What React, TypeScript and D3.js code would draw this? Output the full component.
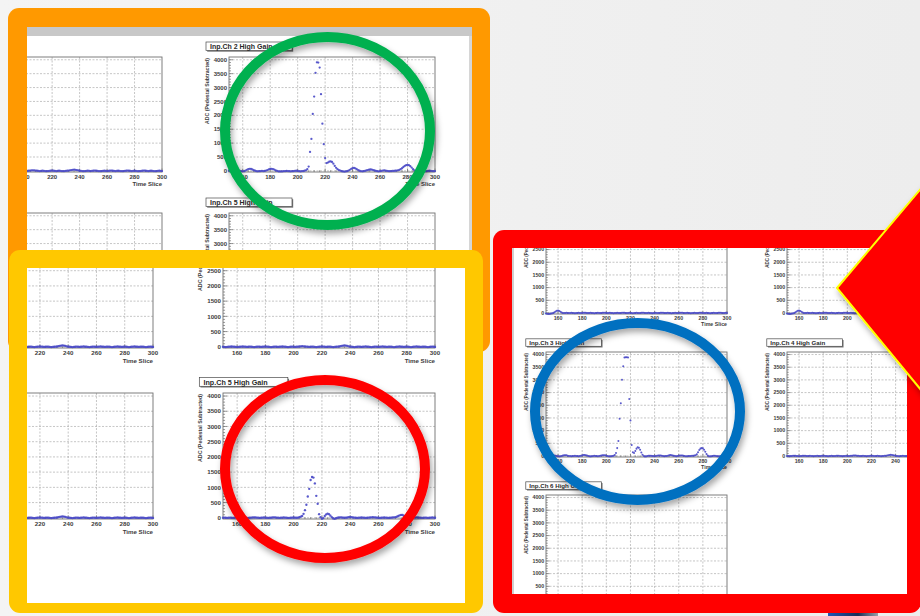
import React from "react";
import * as d3 from "d3";

// ---------- data ----------
const FIRST_SLICE = 150;
const LAST_SLICE = 300;
const xTickLabels = [160, 180, 200, 220, 240, 260, 280, 300];
const yTickLabels = [0, 500, 1000, 1500, 2000, 2500, 3000, 3500, 4000];
const yAxisRange = [-40, 4100];

// ADC (pedestal subtracted) for time slices 150..300
const adcCh2 = [
  5, 0, -5, -10, -5, 5, 10, 5, 0, -10,
  -15, -10, 10, 40, 65, 75, 70, 50, 25, 5,
  -10, -15, -10, -5, 0, -5, 0, 10, 30, 55,
  70, 75, 65, 45, 20, 0, -15, -20, -20, -15,
  -10, -5, 0, -5, -10, -15, -10, -5, 0, 5,
  0, -10, -15, -10, -5, 5, 20, 60, 155, 684,
  1150, 2050, 2675, 3530, 3910, 3900, 3720, 2760, 1700, 960,
  460, 280, 300, 330, 340, 320, 260, 180, 110, 60,
  30, 10, -10, -20, -25, -20, -10, 10, 40, 75,
  100, 105, 90, 60, 30, 5, -10, -15, -10, 0,
  15, 30, 45, 50, 45, 30, 15, 0, -10, -15,
  -10, 0, 10, 15, 10, 0, -5, -10, -5, 0,
  0, 5, 10, 20, 35, 60, 95, 140, 180, 205,
  215, 205, 170, 120, 60, 15, -15, -25, -15, -5,
  5, 0, -5, -10, -5, 0, 5, 0, -5, -10,
  -5,
];

const adcCh5 = [
  0, 5, 0, -5, 0, 5, 0, -5, 0, 5,
  10, 5, 0, -5, 0, 5, 0, -5, -5, 0,
  5, 10, 15, 10, 5, 0, -5, 0, 5, 10,
  5, 0, -5, 0, 5, 10, 15, 10, 5, 0,
  -5, 0, 5, 10, 5, 0, -5, -5, 0, 5,
  10, 5, 0, 5, 20, 40, 60, 130, 250, 430,
  700, 950, 1240, 1340, 1320, 1130, 720, 460, 120, 20,
  -30, -10, 60, 110, 135, 120, 70, 20, -20, -30,
  -15, 0, 10, 15, 10, 5, 0, 5, 10, 20,
  25, 20, 10, 5, 0, -5, 0, 5, 10, 5,
  0, -5, 0, 5, 10, 15, 20, 15, 10, 5,
  0, -5, 0, 5, 10, 5, 0, -5, 0, 5,
  10, 15, 20, 35, 60, 80, 95, 90, 65, 35,
  10, -5, -10, -5, 0, 5, 10, 15, 10, 5,
  0, -5, 0, 5, 0, -5, 0, 5, 10, 5,
  0,
];

const adcCh3 = [
  -10, -15, -10, 0, 10, 20, 25, 20, 10, 0,
  -10, -15, -10, 0, 15, 25, 30, 25, 10, 0,
  -5, -10, -5, 0, 5, 0, -5, -10, -5, 5,
  20, 35, 40, 30, 15, 0, -10, -15, -10, 0,
  5, 0, -5, -10, -5, 5, 15, 25, 30, 25,
  10, 0, -10, -15, -10, 0, 10, 40, 120, 310,
  590, 1470, 2080, 3010, 3540, 3880, 3890, 3890, 3880, 2250,
  1400, 430, 150, 120, 200, 290, 340, 320, 250, 140,
  50, 0, -20, -15, -5, 5, 10, 5, 0, -5,
  -10, -5, 5, 15, 20, 15, 5, -5, -10, -5,
  0, 10, 25, 35, 30, 20, 5, -5, -10, -5,
  5, 15, 20, 15, 5, -5, -10, -10, -5, 0,
  0, 5, 10, 15, 30, 70, 150, 240, 290, 310,
  300, 250, 170, 80, 20, -10, -15, -10, 0, 10,
  10, 0, -10, -15, -10, 0, 10, 15, 10, 5,
  0,
];

const adcQuiet = [
  0, -5, -10, -5, 0, 5, 10, 5, 0, -5,
  -10, -5, 0, 5, 10, 5, 0, -5, 0, 5,
  0, -5, -10, -5, 0, 5, 0, -5, 0, 5,
  10, 5, 0, -5, -10, -5, 0, 5, 0, -5,
  0, 5, 10, 5, 0, -5, -10, -5, 0, 5,
  0, -5, 0, 5, 10, 15, 20, 15, 10, 5,
  0, -5, 0, 5, 0, -5, -10, -5, 0, 5,
  10, 5, 0, -5, 0, 5, 0, -5, -10, -5,
  0, 5, 10, 20, 30, 40, 45, 40, 30, 15,
  5, 0, -5, -10, -5, 0, 5, 0, -5, 0,
  5, 10, 5, 0, -5, -10, -5, 0, 5, 0,
  -5, 0, 5, 10, 5, 0, -5, 0, 5, 0,
  -5, -10, -5, 0, 5, 10, 5, 0, -5, 0,
  5, 0, -5, -10, -5, 0, 5, 10, 5, 0,
  -5, 0, 5, 0, -5, -10, -5, 0, 5, 0,
  -5,
];

const adcQuietEarlyBump = [
  -20, -30, -40, -35, -25, -15, 0, 25, 60, 90,
  100, 80, 45, 15, 0, -5, 0, 5, 0, -5,
  0, 5, 0, -5, -10, -5, 0, 5, 0, -5,
  0, 5, 10, 5, 0, -5, 0, 5, 0, -5,
  -10, -5, 0, 5, 0, -5, 0, 5, 10, 5,
  0, -5, 0, 5, 0, -5, -10, -5, 0, 5,
  0, -5, 0, 5, 10, 5, 0, -5, 0, 5,
  0, -5, -10, -5, 0, 5, 0, -5, 0, 5,
  10, 5, 0, -5, 0, 5, 0, -5, -10, -5,
  0, 5, 0, -5, 0, 5, 10, 5, 0, -5,
  0, 5, 0, -5, -10, -5, 0, 5, 0, -5,
  0, 5, 10, 5, 0, -5, 0, 5, 0, -5,
  -10, -5, 0, 5, 0, -5, 0, 5, 10, 5,
  0, -5, 0, 5, 0, -5, -10, -5, 0, 5,
  0, -5, 0, 5, 10, 5, 0, -5, 0, 5,
  0,
];

// ---------- layout ----------
const W = 920;
const H = 616;
const FONT = "'Liberation Sans', Arial, Helvetica, sans-serif";
const MARKER = "#4848c6";

type Box = { x: number; y: number; w: number; h: number };
type PadSpec = { fx: number; fy: number; fw: number; fh: number; title: string; data: number[] };

// visible part of each screenshot (orange is covered by the yellow one below y=250)
const orangeClip: Box = { x: 27, y: 27, w: 445, h: 223 };
const yellowClip: Box = { x: 27, y: 268, w: 438, h: 335 };
const redClip: Box = { x: 512, y: 248, w: 395, h: 346 };

const orangePads: PadSpec[] = [
  { fx: -44, fy: 57, fw: 206, fh: 115, title: "Inp.Ch 1 High Gain", data: adcQuiet },
  { fx: 229, fy: 57, fw: 206, fh: 115, title: "Inp.Ch 2 High Gain", data: adcCh2 },
  { fx: -44, fy: 213, fw: 206, fh: 115, title: "Inp.Ch 4 High Gain", data: adcQuiet },
  { fx: 229, fy: 213, fw: 206, fh: 115, title: "Inp.Ch 5 High Gain", data: adcQuiet },
];

const yellowPads: PadSpec[] = [
  { fx: -59, fy: 222, fw: 212, fh: 126, title: "Inp.Ch 1 High Gain", data: adcQuiet },
  { fx: 223, fy: 222, fw: 212, fh: 126, title: "Inp.Ch 2 High Gain", data: adcQuiet },
  { fx: -59, fy: 393, fw: 212, fh: 126, title: "Inp.Ch 4 High Gain", data: adcQuiet },
  { fx: 223, fy: 393, fw: 212, fh: 126, title: "Inp.Ch 5 High Gain", data: adcCh5 },
];

const redPads: PadSpec[] = [
  { fx: 546, fy: 209, fw: 181, fh: 105, title: "Inp.Ch 0 High Gain", data: adcQuietEarlyBump },
  { fx: 787, fy: 209, fw: 181, fh: 105, title: "Inp.Ch 1 High Gain", data: adcQuietEarlyBump },
  { fx: 546, fy: 352, fw: 181, fh: 105, title: "Inp.Ch 3 High Gain", data: adcCh3 },
  { fx: 787, fy: 352, fw: 181, fh: 105, title: "Inp.Ch 4 High Gain", data: adcQuiet },
  { fx: 546, fy: 495, fw: 181, fh: 105, title: "Inp.Ch 6 High Gain", data: adcQuiet },
];

// does a box [x0,x1]x[y0,y1] show at least partly inside the clip?
function shows(c: Box, x0: number, x1: number, y0: number, y1: number) {
  return x1 > c.x + 1 && x0 < c.x + c.w - 1 && y1 > c.y + 1 && y0 < c.y + c.h - 1;
}

function textSpan(x: number, len: number, fs: number, anchor: "start" | "middle" | "end") {
  const w = len * 0.6 * fs;
  if (anchor === "end") return [x - w, x];
  if (anchor === "middle") return [x - w / 2, x + w / 2];
  return [x, x + w];
}

function RootPad({ spec, clip }: { spec: PadSpec; clip: Box }) {
  const { fx, fy, fw, fh, title, data } = spec;
  const s = fw / 206;
  const x = d3.scaleLinear().domain([FIRST_SLICE, LAST_SLICE]).range([fx, fx + fw]);
  const y = d3.scaleLinear().domain(yAxisRange).range([fy + fh, fy]);
  const xMinor = d3.range(FIRST_SLICE + 2, LAST_SLICE + 1, 4);
  const yMinor = d3.range(yTickLabels[0], yTickLabels[yTickLabels.length - 1] + 1, 100);
  const lab = 6 * s;
  const bx = fx - 23 * s;
  const by = fy - 15 * s;
  const bw = 86 * s;
  const bh = 8.5 * s;
  const titleFs = 5.2 * s;
  const yTitle = "ADC (Pedestal Subtracted)";
  const yTitleX = fx - 20 * s;
  const yTitleLen = yTitle.length * 0.52 * titleFs;
  const xLabelY = fy + fh + 7.2 * s;
  const xTitleY = fy + fh + 14.2 * s;
  const xTitle = "Time Slice";

  const yLabels = yTickLabels.filter((v) => {
    const [a, b] = textSpan(fx - 2 * s, String(v).length, lab, "end");
    return shows(clip, a, b, y(v) - lab / 2, y(v) + lab / 2);
  });
  const xLabels = xTickLabels.filter((t) => {
    const [a, b] = textSpan(x(t), String(t).length, lab, "middle");
    return shows(clip, a, b, xLabelY - lab, xLabelY);
  });
  const [xtA, xtB] = textSpan(fx + fw, xTitle.length, lab, "end");
  const showXTitle = shows(clip, xtA, xtB, xTitleY - lab, xTitleY);
  const showYTitle = shows(clip, yTitleX - titleFs, yTitleX, fy, fy + yTitleLen);
  const showBox = shows(clip, bx, bx + bw, by, by + bh);

  return (
    <g fontFamily={FONT}>
      <rect x={fx} y={fy} width={fw} height={fh} fill="#ffffff" />
      {xTickLabels
        .filter((t) => t < LAST_SLICE)
        .map((t) => (
          <line key={"gx" + t} x1={x(t)} x2={x(t)} y1={fy} y2={fy + fh} stroke="#a0a0a0" strokeWidth={0.6} strokeDasharray="2,1.5" />
        ))}
      {yTickLabels.map((v) => (
        <line key={"gy" + v} x1={fx} x2={fx + fw} y1={y(v)} y2={y(v)} stroke="#a0a0a0" strokeWidth={0.6} strokeDasharray="2,1.5" />
      ))}
      {xMinor.map((t) => {
        const major = (t - 160) % 20 === 0;
        return (
          <line key={"tx" + t} x1={x(t)} x2={x(t)} y1={fy + fh} y2={fy + fh - (major ? 3.5 : 1.8) * s} stroke="#555" strokeWidth={0.6} />
        );
      })}
      {yMinor.map((v) => {
        const major = v % 500 === 0;
        return (
          <line key={"ty" + v} x1={fx} x2={fx + (major ? 4 : 2) * s} y1={y(v)} y2={y(v)} stroke="#555" strokeWidth={0.6} />
        );
      })}
      <rect x={fx} y={fy} width={fw} height={fh} fill="none" stroke="#707070" strokeWidth={0.9} />
      {yLabels.map((v) => (
        <text key={"ly" + v} x={fx - 2 * s} y={y(v)} dy="0.35em" textAnchor="end" fontSize={lab} fontWeight="bold" fill="#3c3c3c">
          {v}
        </text>
      ))}
      {xLabels.map((t) => (
        <text key={"lx" + t} x={x(t)} y={xLabelY} textAnchor="middle" fontSize={lab} fontWeight="bold" fill="#3c3c3c">
          {t}
        </text>
      ))}
      {showXTitle && (
        <text x={fx + fw} y={xTitleY} textAnchor="end" fontSize={lab} fontWeight="bold" fill="#3c3c3c">
          {xTitle}
        </text>
      )}
      {showYTitle && (
        <text
          transform={`translate(${yTitleX},${fy + 1}) rotate(-90)`}
          textAnchor="end"
          fontSize={titleFs}
          fontWeight="bold"
          fill="#3c3c3c"
        >
          {yTitle}
        </text>
      )}
      {data.map((v, i) => (
        <circle key={"m" + i} cx={x(FIRST_SLICE + i)} cy={y(v)} r={1.15 * s} fill={MARKER} opacity={0.9} />
      ))}
      {showBox && (
        <g>
          <rect x={bx + 1.2} y={by + 1.2} width={bw} height={bh} fill="#777" />
          <rect x={bx} y={by} width={bw} height={bh} fill="#ffffff" stroke="#4a4a4a" strokeWidth={0.7} />
          <text x={bx + 4 * s} y={by + bh / 2} dy="0.36em" fontSize={7 * s} fontWeight="bold" fill="#2a2a2a">
            {title}
          </text>
        </g>
      )}
    </g>
  );
}

export default function App() {
  return (
    <div style={{ position: "absolute", left: 0, top: 0, width: W, height: H }}>
      <svg width={W} height={H} viewBox={`0 0 ${W} ${H}`} style={{ display: "block" }}>
        <defs>
          <linearGradient id="bg" x1="0" x2="1" y1="0" y2="0">
            <stop offset="0" stopColor="#f4f4f4" />
            <stop offset="1" stopColor="#ededed" />
          </linearGradient>
          <filter id="shadow" x="-20%" y="-20%" width="140%" height="150%">
            <feDropShadow dx="2" dy="4" stdDeviation="3" floodColor="#000" floodOpacity="0.35" />
          </filter>
          <clipPath id="clipOrange">
            <rect x={orangeClip.x} y={orangeClip.y} width={orangeClip.w} height={orangeClip.h} />
          </clipPath>
          <clipPath id="clipYellow">
            <rect x={yellowClip.x} y={yellowClip.y} width={yellowClip.w} height={yellowClip.h} />
          </clipPath>
          <clipPath id="clipRed">
            <rect x={redClip.x} y={redClip.y} width={redClip.w} height={redClip.h} />
          </clipPath>
          <linearGradient id="blueStrip" x1="0" x2="1" y1="0" y2="0">
            <stop offset="0" stopColor="#1f57b8" />
            <stop offset="0.6" stopColor="#1c2c55" />
            <stop offset="1" stopColor="#9aa0a8" />
          </linearGradient>
        </defs>
        <rect x={0} y={0} width={W} height={H} fill="url(#bg)" />

        {/* orange screenshot */}
        <rect x={8} y={8} width={482} height={344} rx={11} fill="#ff9900" />
        <rect x={27} y={27} width={445} height={307} fill="#ffffff" />
        <g clipPath="url(#clipOrange)">
          {orangePads.map((p, i) => (
            <RootPad key={"o" + i} spec={p} clip={orangeClip} />
          ))}
          <rect x={27} y={27} width={445} height={9} fill="#c8c8c8" />
          <rect x={469} y={36} width={3} height={298} fill="#d6d6d6" />
        </g>
        <ellipse cx={327.5} cy={131} rx={102.5} ry={94} fill="none" stroke="#00b050" strokeWidth={10} filter="url(#shadow)" />

        {/* yellow screenshot */}
        <rect x={9} y={250} width={474} height={363} rx={11} fill="#ffc800" />
        <g clipPath="url(#clipYellow)">
          <rect x={yellowClip.x} y={yellowClip.y} width={yellowClip.w} height={yellowClip.h} fill="#ffffff" />
          {yellowPads.map((p, i) => (
            <RootPad key={"y" + i} spec={p} clip={yellowClip} />
          ))}
        </g>
        <ellipse cx={325} cy={469} rx={100} ry={89} fill="none" stroke="#ff0000" strokeWidth={10} filter="url(#shadow)" />

        {/* red screenshot */}
        <rect x={493} y={230} width={428} height={383} rx={11} fill="#ff0000" />
        <g clipPath="url(#clipRed)">
          <rect x={redClip.x} y={redClip.y} width={redClip.w} height={redClip.h} fill="#ffffff" />
          <rect x={512} y={248} width={2} height={346} fill="#cfcfcf" />
          {redPads.map((p, i) => (
            <RootPad key={"r" + i} spec={p} clip={redClip} />
          ))}
        </g>
        <ellipse cx={637.5} cy={411.5} rx={102.5} ry={88.5} fill="none" stroke="#0070c0" strokeWidth={10} filter="url(#shadow)" />

        {/* arrow */}
        <polygon points="837,288 940,166 940,413" fill="#ff0000" stroke="#ffff00" strokeWidth={2} strokeLinejoin="miter" filter="url(#shadow)" />

        <rect x={828} y={613} width={50} height={3} fill="url(#blueStrip)" />
      </svg>
    </div>
  );
}
